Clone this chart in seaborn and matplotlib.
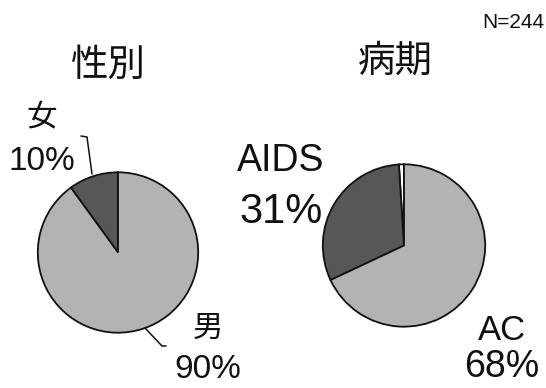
import matplotlib
matplotlib.use("Agg")
import matplotlib.pyplot as plt
from matplotlib.lines import Line2D
import seaborn as sns

# Sex breakdown (percent)
sex_labels = ["女", "男"]
sex_values = [10, 90]

# Disease stage breakdown (percent); first entry is the small unlabelled remainder
stage_labels = ["", "AIDS", "AC"]
stage_values = [1, 31, 68]

sample_note = "N=244"
titles = ["性別", "病期"]

sns.set_theme(style="white")
plt.rcParams["font.family"] = ["Liberation Sans", "Noto Sans CJK JP", "DejaVu Sans"]

W, H = 546, 388
fig = plt.figure(figsize=(W / 100, H / 100), dpi=100)
fig.patch.set_facecolor("white")

LIGHT = "#b3b3b3"
DARK = "#575757"


def px(x, y):
    """pixel position (from top-left) -> figure fraction"""
    return x / W, 1 - y / H


def pie_axes(cx, cy, r):
    return fig.add_axes([(cx - r) / W, (H - cy - r) / H, 2 * r / W, 2 * r / H])


def finish(ax):
    ax.set_xlim(-1.01, 1.01)
    ax.set_ylim(-1.01, 1.01)
    ax.set_aspect("equal")
    ax.axis("off")


wedge_style = dict(edgecolor="#111111", linewidth=1.3)

# left pie: sex
ax1 = pie_axes(118, 252.5, 81)
ax1.pie(sex_values, colors=[DARK, LIGHT], startangle=90, counterclock=True,
        radius=1, wedgeprops=wedge_style)
finish(ax1)

# right pie: disease stage
ax2 = pie_axes(404, 245.5, 82)
ax2.pie(stage_values, colors=["white", DARK, LIGHT], startangle=90,
        counterclock=True, radius=1, wedgeprops=wedge_style)
finish(ax2)


def label(x, y, s, size):
    fx, fy = px(x, y)
    fig.text(fx, fy, s, ha="center", va="center", fontsize=size, color="#111111")


# titles
label(108, 66, titles[0], 27)
label(395, 62, titles[1], 27)

# sex labels
label(42, 118, sex_labels[0], 22)
label(42, 161, f"{sex_values[0]}%", 24)
label(208, 329, sex_labels[1], 22)
label(208, 369, f"{sex_values[1]}%", 24)

# stage labels
label(281, 161, stage_labels[1], 27)
label(281, 212, f"{stage_values[1]}%", 30)
label(502, 330, stage_labels[2], 25)
label(502, 367, f"{stage_values[2]}%", 27)

# sample size
fx, fy = px(544, 22)
fig.text(fx, fy, sample_note, ha="right", va="center", fontsize=15, color="#111111")


def leader(points):
    xs = [p[0] / W for p in points]
    ys = [1 - p[1] / H for p in points]
    fig.add_artist(Line2D(xs, ys, transform=fig.transFigure,
                          color="#111111", linewidth=1.1))


leader([(81, 136), (87, 137), (92, 174)])
leader([(145, 328), (162, 346), (166, 346)])

fig.savefig("out.png", dpi=100, facecolor="white")
